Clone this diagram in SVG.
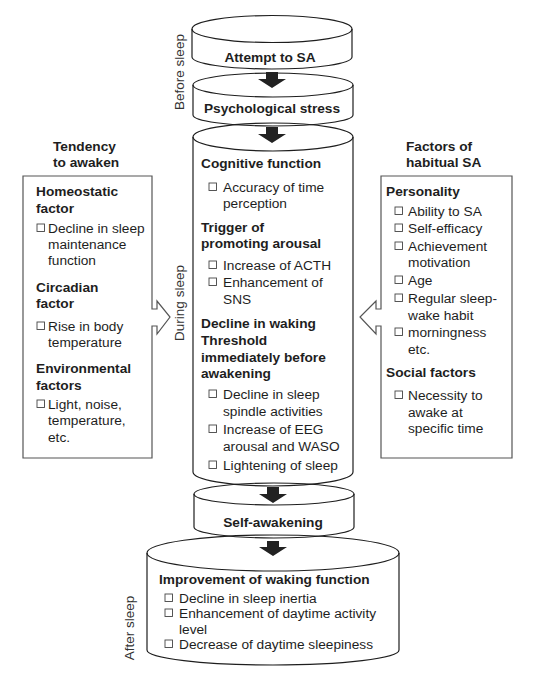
<svg xmlns="http://www.w3.org/2000/svg" width="540" height="684" viewBox="0 0 540 684">
<style>
text{font-family:"Liberation Sans",Arial,Helvetica,sans-serif;font-size:13.7px;fill:#1e1e1e}
.b{font-weight:bold}
.lab{font-size:13.5px;fill:#333}
.cyl{fill:none;stroke:#1e1e1e;stroke-width:1.2}
.box{fill:#fff;stroke:#555;stroke-width:1.2}
.cb{fill:none;stroke:#444;stroke-width:0.9}
.arr{fill:#222;stroke:none}
</style>
<defs>
<rect id="cb" class="cb" width="7.5" height="7.5"/>
</defs>
<rect width="540" height="684" fill="#fff"/>

<g id="phase-labels">
<text class="lab" text-anchor="middle" transform="translate(184,72) rotate(-90)">Before sleep</text>
<text class="lab" text-anchor="middle" transform="translate(184,303) rotate(-90)">During sleep</text>
<text class="lab" text-anchor="middle" transform="translate(134,628) rotate(-90)">After sleep</text>
</g>

<g id="attempt">
<ellipse class="cyl" cx="272" cy="29" rx="80" ry="13.5"/>
<path class="cyl" d="M192,29 L192,57 A80,12 0 0,0 352,57 L352,29"/>
<text class="b" x="270" y="62" text-anchor="middle">Attempt to SA</text>
</g>

<g id="stress">
<ellipse class="cyl" cx="273" cy="85" rx="80" ry="12"/>
<path class="cyl" d="M193,85 L193,115 A80,11 0 0,0 353,115 L353,85"/>
<text class="b" x="272" y="113" text-anchor="middle">Psychological stress</text>
</g>

<g id="during">
<ellipse class="cyl" cx="273" cy="137" rx="80" ry="14"/>
<path class="cyl" d="M193,137 L193,472 A80,14 0 0,0 353,472 L353,137"/>
<text class="b" x="201" y="168">Cognitive function</text>
<use href="#cb" x="209" y="183"/>
<text x="223" y="192">Accuracy of time</text>
<text x="223" y="208">perception</text>
<text class="b" x="201" y="232">Trigger of</text>
<text class="b" x="201" y="248">promoting arousal</text>
<use href="#cb" x="209" y="261"/>
<text x="223" y="270">Increase of ACTH</text>
<use href="#cb" x="209" y="278"/>
<text x="223" y="287">Enhancement of</text>
<text x="223" y="304">SNS</text>
<text class="b" x="201" y="328">Decline in waking</text>
<text class="b" x="201" y="345">Threshold</text>
<text class="b" x="201" y="362">immediately before</text>
<text class="b" x="201" y="378">awakening</text>
<use href="#cb" x="209" y="390"/>
<text x="223" y="399">Decline in sleep</text>
<text x="223" y="416">spindle activities</text>
<use href="#cb" x="209" y="425"/>
<text x="223" y="434">Increase of EEG</text>
<text x="223" y="451">arousal and WASO</text>
<use href="#cb" x="209" y="461"/>
<text x="223" y="470">Lightening of sleep</text>
</g>

<g id="self-awakening">
<ellipse class="cyl" cx="274" cy="494" rx="80" ry="11"/>
<path class="cyl" d="M194,494 L194,527 A80,11 0 0,0 354,527 L354,494"/>
<text class="b" x="273" y="527" text-anchor="middle">Self-awakening</text>
</g>

<g id="after">
<ellipse class="cyl" cx="273" cy="553" rx="126" ry="18"/>
<path class="cyl" d="M147,553 L147,650 A126,15 0 0,0 399,650 L399,553"/>
<text class="b" x="159" y="584">Improvement of waking function</text>
<use href="#cb" x="165" y="594"/>
<text x="179" y="603">Decline in sleep inertia</text>
<use href="#cb" x="165" y="609"/>
<text x="179" y="618">Enhancement of daytime activity</text>
<text x="179" y="634">level</text>
<use href="#cb" x="165" y="640"/>
<text x="179" y="649">Decrease of daytime sleepiness</text>
</g>

<g id="tendency">
<text class="b" x="53" y="151">Tendency</text>
<text class="b" x="53" y="167">to awaken</text>
<path class="box" d="M152,309 L157,309 L157,301 L170,317 L157,334 L157,326 L152,326 L152,458 L23,458 L23,176 L152,176 Z"/>
<text class="b" x="36" y="196">Homeostatic</text>
<text class="b" x="36" y="213">factor</text>
<use href="#cb" x="37" y="224"/>
<text x="48" y="233">Decline in sleep</text>
<text x="48" y="249">maintenance</text>
<text x="48" y="265">function</text>
<text class="b" x="36" y="292">Circadian</text>
<text class="b" x="36" y="308">factor</text>
<use href="#cb" x="37" y="322"/>
<text x="48" y="331">Rise in body</text>
<text x="48" y="347">temperature</text>
<text class="b" x="36" y="373">Environmental</text>
<text class="b" x="36" y="390">factors</text>
<use href="#cb" x="37" y="400"/>
<text x="48" y="409">Light, noise,</text>
<text x="48" y="425">temperature,</text>
<text x="48" y="442">etc.</text>
</g>

<g id="habitual">
<text class="b" x="406" y="151">Factors of</text>
<text class="b" x="406" y="167">habitual SA</text>
<path class="box" d="M381,309 L376,309 L376,301 L360,317 L376,334 L376,326 L381,326 L381,458 L512,458 L512,176 L381,176 Z"/>
<text class="b" x="386" y="196">Personality</text>
<use href="#cb" x="395" y="207"/>
<text x="408" y="216">Ability to SA</text>
<use href="#cb" x="395" y="224"/>
<text x="408" y="233">Self-efficacy</text>
<use href="#cb" x="395" y="242"/>
<text x="408" y="251">Achievement</text>
<text x="408" y="267">motivation</text>
<use href="#cb" x="395" y="276"/>
<text x="408" y="285">Age</text>
<use href="#cb" x="395" y="294"/>
<text x="408" y="303">Regular sleep-</text>
<text x="408" y="320">wake habit</text>
<use href="#cb" x="395" y="328"/>
<text x="408" y="337">morningness</text>
<text x="408" y="354">etc.</text>
<text class="b" x="386" y="377">Social factors</text>
<use href="#cb" x="395" y="391"/>
<text x="408" y="400">Necessity to</text>
<text x="408" y="417">awake at</text>
<text x="408" y="433">specific time</text>
</g>

<g id="connectors">
<polygon class="arr" points="266,72 278,72 278,79 286,79 272,88 258,79 266,79"/>
<polygon class="arr" points="266,127 278,127 278,134 286,134 272,143 258,134 266,134"/>
<polygon class="arr" points="267,487 279,487 279,494 287,494 273,503 259,494 267,494"/>
<polygon class="arr" points="267,541 279,541 279,547 287,547 273,556 259,547 267,547"/>
</g>
</svg>
